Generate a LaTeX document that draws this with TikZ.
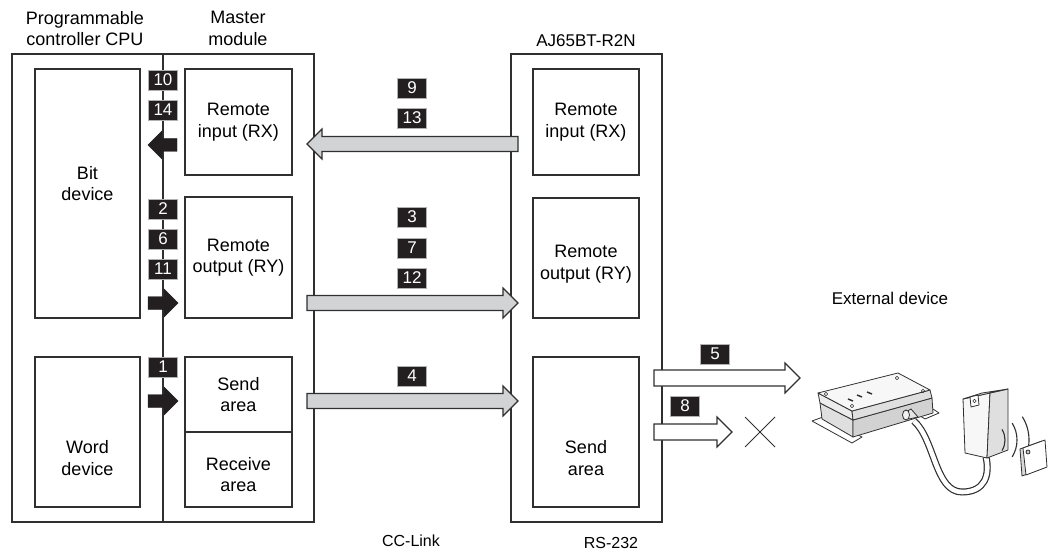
\documentclass[tikz,border=0pt]{standalone}
\usepackage{fontspec}
\setmainfont{Liberation Sans}
\usetikzlibrary{calc}

\definecolor{linkgray}{HTML}{D1D3D4}
\definecolor{tagblack}{HTML}{231F20}
\definecolor{edge}{HTML}{303030}

% fat horizontal arrow: style, tail, tip, half shaft, half head (= head length)
\newcommand{\fatarrow}[5]{%
  \draw[#1] let \p1 = (#2), \p2 = (#3), \p3 = ($(#3)!#5!(#2)$) in
    (\x1,\y1+#4) -- (\x3,\y1+#4) -- (\x3,\y1+#5) -- (\x2,\y2)
    -- (\x3,\y1-#5) -- (\x3,\y1-#4) -- (\x1,\y1-#4) -- cycle;}

\begin{document}
\begin{tikzpicture}[x=1pt, y=-1pt,
    every node/.style={font=\fontsize{18pt}{21.5pt}\selectfont, align=center, inner sep=0pt},
    small/.style={font=\fontsize{#1}{21.5pt}\selectfont},
    frame/.style={draw=edge, line width=1.1pt},
    cell/.style args={#1x#2}{draw=edge, line width=1.1pt, minimum width=#1pt, minimum height=#2pt},
    tag/.style={fill=tagblack, draw=gray!60, line width=0.6pt, text=white, minimum width=29pt, minimum height=20pt, small=17pt},
    cclink/.style={fill=linkgray, draw=edge, line width=1.2pt, line join=miter},
    push/.style={fill=tagblack, draw=tagblack, line width=0.4pt},
    serial/.style={fill=white, draw=edge, line width=1.2pt, line join=miter},
    part/.style={draw=edge, line width=0.8pt, line join=round}]
  \useasboundingbox (0,0) rectangle (1050,556);

  % headings
  \node (hcpu) at (85,28.5) {Programmable\\controller CPU};
  \node (hmst) at (238,28.5) {Master\\module};
  \node[small=17pt] (hr2n) at (586,41) {AJ65BT-R2N};
  \node[small=17pt] (hext) at (890,298) {External device};
  \node[small=16pt] (hcc) at (411,541) {CC-Link};
  \node[small=16pt] (hrs) at (611,543) {RS-232};

  % CPU + master module
  \node[cell=302x468] (cpu) at (163,288) {};
  \draw[frame] (cpu.north) -- (cpu.south);
  \node[cell=105x249] (bit) at (87.5,193.5) {};
  \node (bittxt) at ([yshift=10pt]bit.center) {Bit\\device};
  \node[cell=105x150] (word) at (87.5,432) {};
  \node (wordtxt) at ([yshift=-26pt]word.center) {Word\\device};
  \node[cell=107x106] (mrx) at (238.5,122) {Remote\\input (RX)};
  \node[cell=107x121] (mry) at (238.5,257.5) {Remote\\output (RY)};
  \node[cell=107x75] (msend) at (238.5,394.5) {Send\\area};
  \node[cell=107x75] (mrecv) at (238.5,469.5) {};
  \node (mrecvtxt) at ([yshift=-5pt]mrecv.center) {Receive\\area};

  % AJ65BT-R2N
  \node[cell=151x468] (r2n) at (586.5,288) {};
  \node[cell=106x106] (rrx) at (586,122) {Remote\\input (RX)};
  \node[cell=106x120] (rry) at (586,258) {};
  \node (rrytxt) at ([yshift=-6pt]rry.center) {Remote\\output (RY)};
  \node[cell=106x150] (rsend) at (586,432) {};
  \node (rsendtxt) at ([yshift=-26pt]rsend.center) {Send\\area};

  % step numbers
  \node[tag] (t10) at (163,80) {10};
  \node[tag] (t14) at (163,110) {14};
  \node[tag] (t2) at (163,209) {2};
  \node[tag] (t6) at (163,239) {6};
  \node[tag] (t11) at (163,269) {11};
  \node[tag] (t1) at (163,367) {1};
  \node[tag] (t9) at (412,88) {9};
  \node[tag] (t13) at (412,118) {13};
  \node[tag] (t3) at (412,217) {3};
  \node[tag] (t7) at (412,248) {7};
  \node[tag] (t12) at (412,278) {12};
  \node[tag] (t4) at (412,376) {4};
  \node[tag] (t5) at (715,354) {5};
  \node[tag] (t8) at (685,406) {8};

  % refresh between CPU and master module
  \coordinate (bxa) at (177,145);  \coordinate (bxb) at (148,145);
  \coordinate (bya) at (148,303);  \coordinate (byb) at (178,303);
  \coordinate (bsa) at (148,401);  \coordinate (bsb) at (178,401);
  \fatarrow{push}{bxa}{bxb}{6.5pt}{14pt}
  \fatarrow{push}{bya}{byb}{6.5pt}{14pt}
  \fatarrow{push}{bsa}{bsb}{6.5pt}{14pt}

  % link scan
  \coordinate (lxa) at (518,144);  \coordinate (lxb) at (307,144);
  \coordinate (lya) at (307,303);  \coordinate (lyb) at (518,303);
  \coordinate (lsa) at (307,401);  \coordinate (lsb) at (518,401);
  \fatarrow{cclink}{lxa}{lxb}{7.5pt}{15pt}
  \fatarrow{cclink}{lya}{lyb}{7.5pt}{15pt}
  \fatarrow{cclink}{lsa}{lsb}{7.5pt}{15pt}

  % RS-232 side
  \coordinate (s5a) at (654,378);  \coordinate (s5b) at (800,378);
  \coordinate (s8a) at (654,432);  \coordinate (s8b) at (732,432);
  \fatarrow{serial}{s5a}{s5b}{8pt}{15pt}
  \fatarrow{serial}{s8a}{s8b}{8pt}{15pt}
  \coordinate (nx) at (760,432);
  \draw[edge, line width=0.9pt] ($(nx)+(-15,-15)$) -- ($(nx)+(15,15)$)
    ($(nx)+(-15,15)$) -- ($(nx)+(15,-15)$);

  % external device: controller box
  \draw[part, fill=white] (812,421) -- (823,417) -- (862,437) -- (852,443) -- cycle;
  \draw[part, fill=white] (917,414) -- (933,409) -- (939,413) -- (925,419) -- cycle;
  \draw[part, fill=gray!25] (820,403) -- (853,420) -- (853,437) -- (822,419) -- cycle;
  \draw[part, fill=gray!35] (853,420) -- (932,398) -- (933,413) -- (853,437) -- cycle;
  \draw[part, fill=gray!15] (818,393) -- (852,411) -- (853,420) -- (820,403) -- cycle;
  \draw[part, fill=gray!25] (852,411) -- (930,390) -- (932,398) -- (853,420) -- cycle;
  \draw[part, fill=gray!6] (818,393) -- (898,373) -- (930,390) -- (852,411) -- cycle;
  \foreach \sx/\sy in {826/394, 897/378, 923/391, 852/406}
    \draw[part, line width=0.5pt] (\sx,\sy) circle (1.8);
  \foreach \lx/\ly in {848/399, 857/395, 867/392}
    \draw[edge, line width=1.4pt] (\lx,\ly) -- ++(5,2);
  % cable and antenna head
  \draw[edge, line width=7pt] (914,421) .. controls (935,440) and (935,492) .. (962,492)
    .. controls (985,492) and (990,475) .. (986,457);
  \draw[white, line width=4.6pt] (914,421) .. controls (935,440) and (935,492) .. (962,492)
    .. controls (985,492) and (990,475) .. (986,457);
  \draw[part, fill=gray!20] (909,419) -- (904,413) -- (911,409) -- (918,417) -- cycle;
  \draw[part, fill=gray!10] (906,415) ellipse (3.5 and 5);
  \draw[part, fill=gray!6] (963,399) -- (990,393) -- (987,458) -- (965,453) -- cycle;
  \draw[part, fill=gray!25] (990,393) -- (1008,389) -- (1008,450) -- (987,458) -- cycle;
  \draw[part, fill=gray!10] (963,399) -- (982,393) -- (1008,389) -- (990,393) -- cycle;
  \draw[part, fill=white] (970,397) -- (978,395) -- (979,405) -- (971,407) -- cycle;
  \draw[part, line width=0.5pt] (974.5,401) circle (1.8);
  % radio waves and tag card
  \foreach \r in {20, 32, 44}
    \draw[edge, line width=1.1pt] ([shift={(-32:\r pt)}]985,440) arc[start angle=-32, end angle=32, radius=\r pt];
  \draw[part, fill=gray!30] (1020,449) -- (1042,441) -- (1044,468) -- (1022,476) -- cycle;
  \draw[part, fill=white] (1023,448) -- (1045,440) -- (1047,467) -- (1026,475) -- cycle;
  \draw[part, fill=gray!40] (1028,452) circle (2);
\end{tikzpicture}
\end{document}
